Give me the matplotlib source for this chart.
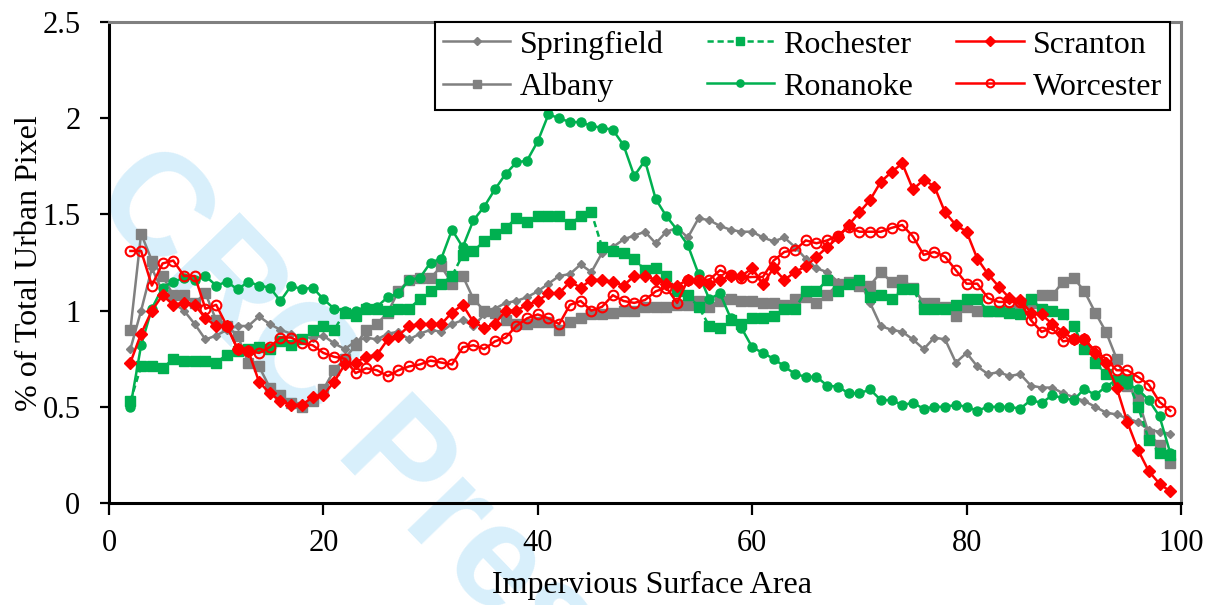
import numpy as np
from matplotlib import pyplot as plt

# x positions (impervious surface area, %)
area = np.arange(2, 100)

springfield = [0.80, 1.00, 1.22, 1.10, 1.04, 1.00, 0.93, 0.85, 0.87, 0.90,
               0.92, 0.92, 0.97, 0.93, 0.90, 0.88, 0.86, 0.86, 0.87, 0.83,
               0.80, 0.84, 0.86, 0.85, 0.88, 0.89, 0.85, 0.88, 0.90, 0.89,
               0.93, 0.95, 0.92, 0.98, 1.01, 1.04, 1.05, 1.07, 1.10, 1.14,
               1.18, 1.19, 1.24, 1.20, 1.30, 1.33, 1.37, 1.39, 1.41, 1.35,
               1.41, 1.43, 1.38, 1.48, 1.47, 1.44, 1.42, 1.41, 1.41, 1.38,
               1.36, 1.38, 1.33, 1.27, 1.22, 1.20, 1.15, 1.14, 1.16, 1.04,
               0.92, 0.90, 0.89, 0.85, 0.80, 0.86, 0.85, 0.73, 0.78, 0.71,
               0.67, 0.68, 0.66, 0.67, 0.61, 0.60, 0.60, 0.57, 0.55, 0.53,
               0.50, 0.47, 0.46, 0.44, 0.42, 0.38, 0.37, 0.36]

albany = [0.90, 1.40, 1.26, 1.18, 1.08, 1.08, 1.04, 1.09, 0.95, 0.92,
          0.87, 0.73, 0.71, 0.60, 0.56, 0.52, 0.50, 0.53, 0.59, 0.69,
          0.75, 0.82, 0.90, 0.93, 0.99, 1.10, 1.16, 1.17, 1.17, 1.23,
          1.14, 1.18, 1.06, 1.00, 0.99, 0.95, 0.93, 0.93, 0.94, 0.94,
          0.90, 0.94, 0.96, 0.98, 0.98, 0.99, 1.00, 1.00, 1.02, 1.02,
          1.02, 1.03, 1.03, 1.05, 1.02, 1.05, 1.06, 1.05, 1.05, 1.04,
          1.04, 1.03, 1.06, 1.07, 1.04, 1.08, 1.14, 1.15, 1.13, 1.13,
          1.20, 1.15, 1.16, 1.12, 1.04, 1.04, 1.02, 0.97, 1.02, 1.00,
          1.00, 1.00, 1.00, 1.04, 1.04, 1.08, 1.08, 1.15, 1.17, 1.10,
          0.99, 0.89, 0.75, 0.61, 0.54, 0.36, 0.30, 0.21]

rochester = [0.53, 0.71, 0.71, 0.70, 0.75, 0.74, 0.74, 0.74, 0.73, 0.77,
             0.79, 0.80, 0.81, 0.80, 0.84, 0.82, 0.85, 0.90, 0.92, 0.90,
             0.99, 0.97, 1.01, 1.01, 1.00, 1.01, 1.01, 1.06, 1.10, 1.14,
             1.18, 1.29, 1.31, 1.36, 1.40, 1.43, 1.48, 1.46, 1.49, 1.49,
             1.49, 1.45, 1.49, 1.51, 1.33, 1.31, 1.30, 1.27, 1.21, 1.22,
             1.18, 1.10, 1.08, 1.02, 0.92, 0.91, 0.95, 0.93, 0.96, 0.96,
             0.97, 1.01, 1.01, 1.10, 1.10, 1.16, 1.10, 1.14, 1.16, 1.07,
             1.08, 1.06, 1.11, 1.11, 1.01, 1.01, 1.01, 1.03, 1.06, 1.06,
             1.00, 1.00, 0.99, 0.98, 1.06, 1.01, 1.00, 0.98, 0.92, 0.80,
             0.73, 0.67, 0.64, 0.64, 0.50, 0.33, 0.26, 0.25]

ronanoke = [0.50, 0.82, 1.01, 1.12, 1.15, 1.17, 1.16, 1.18, 1.13, 1.15,
            1.11, 1.15, 1.13, 1.12, 1.05, 1.13, 1.11, 1.12, 1.06, 1.01,
            1.00, 1.00, 1.02, 1.02, 1.07, 1.09, 1.16, 1.17, 1.25, 1.27,
            1.42, 1.33, 1.47, 1.54, 1.63, 1.71, 1.77, 1.78, 1.88, 2.02,
            2.00, 1.98, 1.98, 1.96, 1.95, 1.94, 1.86, 1.70, 1.78, 1.58,
            1.49, 1.42, 1.34, 1.19, 1.06, 1.09, 0.96, 0.91, 0.81, 0.78,
            0.75, 0.71, 0.67, 0.656, 0.656, 0.61, 0.605, 0.57, 0.57, 0.59,
            0.535, 0.535, 0.51, 0.52, 0.49, 0.50, 0.50, 0.51, 0.50, 0.48,
            0.50, 0.50, 0.50, 0.49, 0.535, 0.52, 0.56, 0.545, 0.535, 0.595,
            0.56, 0.605, 0.64, 0.62, 0.59, 0.535, 0.45, 0.26]

scranton = [0.73, 0.88, 1.00, 1.08, 1.03, 1.04, 1.03, 0.96, 0.92, 0.92,
            0.80, 0.79, 0.63, 0.57, 0.53, 0.51, 0.51, 0.55, 0.56, 0.63,
            0.72, 0.73, 0.76, 0.77, 0.85, 0.87, 0.92, 0.93, 0.93, 0.93,
            0.99, 1.03, 0.94, 0.91, 0.93, 1.00, 1.00, 1.03, 1.05, 1.09,
            1.09, 1.15, 1.12, 1.16, 1.16, 1.15, 1.13, 1.18, 1.18, 1.16,
            1.14, 1.13, 1.16, 1.15, 1.14, 1.16, 1.18, 1.18, 1.22, 1.14,
            1.22, 1.16, 1.20, 1.23, 1.28, 1.33, 1.38, 1.445, 1.51, 1.575,
            1.67, 1.72, 1.765, 1.63, 1.68, 1.645, 1.51, 1.445, 1.41, 1.27,
            1.19, 1.125, 1.065, 1.055, 0.99, 0.98, 0.93, 0.89, 0.85, 0.855,
            0.78, 0.73, 0.60, 0.42, 0.275, 0.165, 0.10, 0.06]

worcester = [1.31, 1.31, 1.13, 1.245, 1.26, 1.18, 1.18, 1.01, 1.03, 0.92,
             0.80, 0.79, 0.78, 0.81, 0.86, 0.86, 0.83, 0.82, 0.78, 0.76,
             0.75, 0.675, 0.70, 0.69, 0.66, 0.69, 0.71, 0.72, 0.74, 0.73,
             0.72, 0.81, 0.82, 0.80, 0.84, 0.86, 0.92, 0.96, 0.98, 0.96,
             0.93, 1.03, 1.05, 1.00, 1.02, 1.08, 1.05, 1.04, 1.055, 1.10,
             1.12, 1.04, 1.16, 1.16, 1.16, 1.21, 1.185, 1.17, 1.175, 1.175,
             1.26, 1.305, 1.315, 1.365, 1.35, 1.365, 1.39, 1.435, 1.41, 1.41,
             1.41, 1.43, 1.445, 1.385, 1.29, 1.305, 1.28, 1.21, 1.14, 1.14,
             1.065, 1.045, 1.045, 1.045, 0.95, 0.89, 0.91, 0.84, 0.85, 0.85,
             0.79, 0.75, 0.69, 0.69, 0.655, 0.615, 0.525, 0.48]

x_ticks = [0, 20, 40, 60, 80, 100]
y_ticks = [0, 0.5, 1, 1.5, 2, 2.5]
y_tick_labels = ['0', '0.5', '1', '1.5', '2', '2.5']

GRAY = '#808080'
GREEN = '#00b050'
RED = '#ff0000'

plt.rcParams['font.family'] = ['Liberation Serif', 'DejaVu Serif']

fig = plt.figure(figsize=(12.12, 6.05), dpi=100)
ax = fig.add_axes([0.0899, 0.1686, 0.8845, 0.795])

# faint watermark behind the data
ax.text(88 / 1212, 1 - 199 / 605, 'CRC Press', transform=fig.transFigure,
        rotation=-46, rotation_mode='anchor', ha='left', va='baseline',
        fontsize=104, fontweight='bold', family='Liberation Sans',
        color='#d8effb', zorder=0.5, clip_on=False)

lw = 1.8
h_spr, = ax.plot(area, springfield, color=GRAY, lw=lw, marker='D', ms=4.5,
                 label='Springfield')
h_alb, = ax.plot(area, albany, color=GRAY, lw=lw, marker='s', ms=7,
                 label='Albany')
h_roc, = ax.plot(area, rochester, color=GREEN, lw=lw, ls=(0, (2.5, 1.5)),
                 marker='s', ms=7, label='Rochester')
h_ron, = ax.plot(area, ronanoke, color=GREEN, lw=lw, marker='o', ms=6.5,
                 label='Ronanoke')
h_scr, = ax.plot(area, scranton, color=RED, lw=lw, marker='D', ms=6,
                 label='Scranton')
h_wor, = ax.plot(area, worcester, color=RED, lw=lw, marker='o', ms=7,
                 mfc='none', mew=1.5, label='Worcester')

ax.set_xlim(0, 100)
ax.set_ylim(0, 2.5)
ax.set_xticks(x_ticks)
ax.set_yticks(y_ticks)
ax.set_yticklabels(y_tick_labels)
ax.tick_params(axis='both', direction='out', width=1.6, labelsize=22,
               color='black')
ax.tick_params(axis='y', length=6.5, pad=14)
ax.tick_params(axis='x', length=8.5, pad=10)

for side in ['left', 'bottom']:
    ax.spines[side].set_color('black')
    ax.spines[side].set_linewidth(2.2)
for side in ['top', 'right']:
    ax.spines[side].set_color(GRAY)
    ax.spines[side].set_linewidth(2.2)

fig.text(652 / 1212, 1 - 585 / 605, 'Impervious Surface Area', fontsize=23,
         ha='center', va='center')
fig.text(30 / 1212, 1 - 263 / 605, '% of Total Urban Pixel', fontsize=23,
         rotation=90, ha='center', va='center')

leg = ax.legend(handles=[h_spr, h_alb, h_roc, h_ron, h_scr, h_wor], ncol=3,
                loc='upper right', bbox_to_anchor=(0.99, 1.0),
                borderaxespad=0, fontsize=23, frameon=True, fancybox=False,
                framealpha=1, edgecolor='black', handlelength=2.1,
                handletextpad=0.3, columnspacing=1.35, labelspacing=0.4,
                borderpad=0.25, markerscale=0.8)
leg.get_frame().set_linewidth(1.5)

plt.savefig('out.png', dpi=100)
